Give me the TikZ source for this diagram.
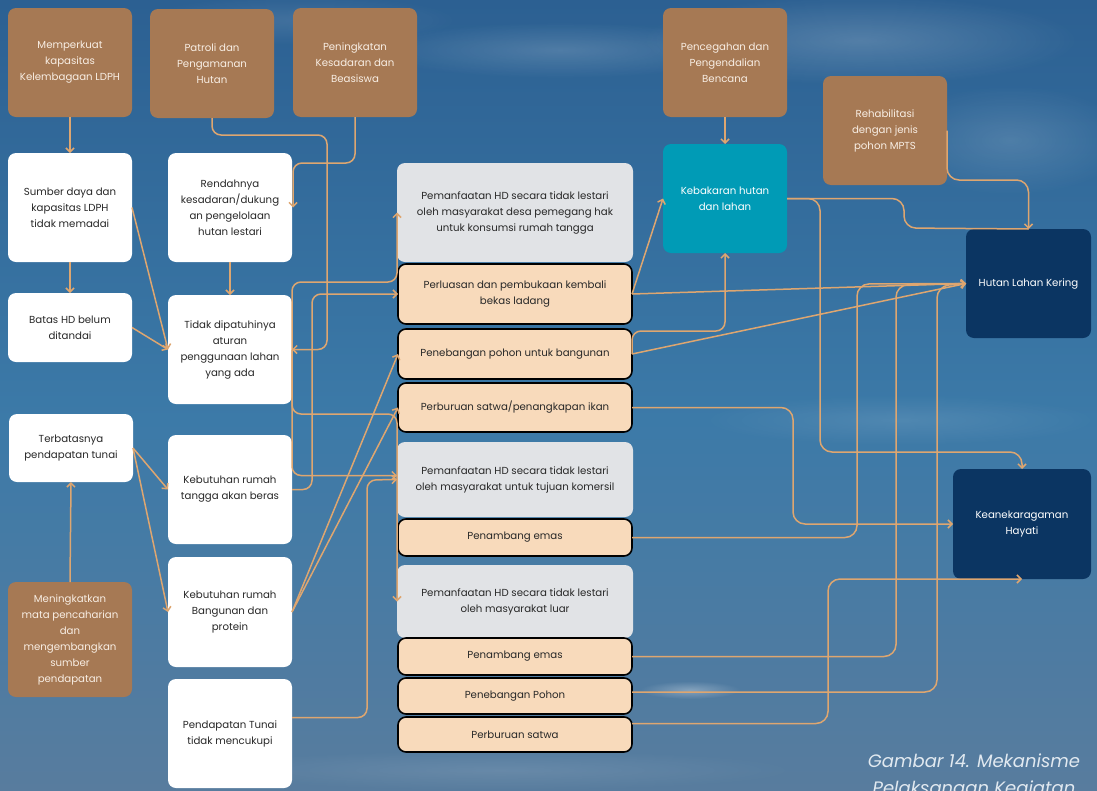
\documentclass[tikz,border=0pt]{standalone}
\usepackage{fontspec}
\setmainfont{Poppins}
\usetikzlibrary{arrows.meta,calc,fadings}
\definecolor{skytop}{RGB}{44,96,146}
\definecolor{skymid}{RGB}{60,122,168}
\definecolor{skybot}{RGB}{88,124,158}
\definecolor{brownbox}{RGB}{166,121,84}
\definecolor{browntext}{RGB}{248,238,228}
\definecolor{peach}{RGB}{248,218,187}
\definecolor{greybox}{RGB}{225,227,230}
\definecolor{tealbox}{RGB}{0,155,182}
\definecolor{navybox}{RGB}{11,53,98}
\definecolor{linkc}{RGB}{222,166,112}
\definecolor{inktext}{RGB}{40,40,40}
\definecolor{captext}{RGB}{225,233,240}
\tikzfading[name=softcloud,inner color=transparent!0,outer color=transparent!100]

\begin{document}
\begin{tikzpicture}[x=1pt,y=-1pt,
  sz/.style 2 args={minimum width=#1pt,minimum height=#2pt},
  basebox/.style={rounded corners=8pt,align=center,inner sep=2pt,outer sep=0pt,
    font=\fontsize{10.2}{16}\selectfont},
  brownbox/.style={basebox,fill=brownbox,text=browntext},
  whitebox/.style={basebox,fill=white,text=inktext},
  greycard/.style={basebox,fill=greybox,text=inktext,sz={236}{#1}},
  peachcard/.style={basebox,fill=peach,draw=black,line width=1.6pt,text=inktext,sz={234}{#1}},
  tealbox/.style={basebox,fill=tealbox,text=white},
  navybox/.style={basebox,fill=navybox,text=white},
  cloud/.style={fill=white,path fading=softcloud,opacity=#1},
  link/.style={draw=linkc,line width=1.5pt,rounded corners=9pt,
    -{Straight Barb[length=4pt,width=8pt,line width=1.5pt]}},
  plainlink/.style={draw=linkc,line width=1.5pt,rounded corners=12pt},
]
% sky background
\useasboundingbox (0,0) rectangle (1097,790);
\shade[top color=skytop,bottom color=skymid] (0,0) rectangle (1097,420);
\shade[top color=skymid,bottom color=skybot] (0,420) rectangle (1097,790);

\begin{scope}
\clip (0,0) rectangle (1097,790);

% thin clouds
\fill[cloud=0.16] (560,50) ellipse (190 and 28);
\fill[cloud=0.18] (860,40) ellipse (220 and 45);
\fill[cloud=0.14] (1010,140) ellipse (120 and 55);
\fill[cloud=0.10] (300,20) ellipse (160 and 25);
\fill[cloud=0.10] (900,420) ellipse (200 and 25);
\fill[cloud=0.30] (690,690) ellipse (50 and 9);
\fill[cloud=0.10] (500,770) ellipse (300 and 20);

% interventions (brown)
\node[brownbox,sz={124}{109}] (B1) at (70,62.5) {Memperkuat\\kapasitas\\Kelembagaan LDPH};
\node[brownbox,sz={124}{109}] (B2) at (212,63.5) {Patroli dan\\Pengamanan\\Hutan};
\node[brownbox,sz={124}{109}] (B3) at (355,62.5) {Peningkatan\\Kesadaran dan\\Beasiswa};
\node[brownbox,sz={124}{109}] (B4) at (725,62.5) {Pencegahan dan\\Pengendalian\\Bencana};
\node[brownbox,sz={124}{109}] (B5) at (885,130.5) {Rehabilitasi\\dengan jenis\\pohon MPTS};
\node[brownbox,sz={124}{115}] (B6) at (70,639.5) {Meningkatkan\\mata pencaharian\\dan\\mengembangkan\\sumber\\pendapatan};

% root causes (white)
\node[whitebox,sz={124}{109}] (W1) at (70,207.5) {Sumber daya dan\\kapasitas LDPH\\tidak memadai};
\node[whitebox,sz={124}{109}] (W2) at (230,207.5) {Rendahnya\\kesadaran/dukung\\an pengelolaan\\hutan lestari};
\node[whitebox,sz={124}{69}] (W3) at (70,327.5) {Batas HD belum\\ditandai};
\node[whitebox,sz={124}{109}] (W4) at (230,349.5) {Tidak dipatuhinya\\aturan\\penggunaan lahan\\yang ada};
\node[whitebox,sz={124}{68}] (W5) at (71,448) {Terbatasnya\\pendapatan tunai};
\node[whitebox,sz={124}{109}] (W6) at (230,489.5) {Kebutuhan rumah\\tangga akan beras};
\node[whitebox,sz={124}{110}] (W7) at (230,612) {Kebutuhan rumah\\Bangunan dan\\protein};
\node[whitebox,sz={124}{109}] (W8) at (230,733.5) {Pendapatan Tunai\\tidak mencukupi};

% direct threats (grey) and activities (peach)
\node[greycard=99] (G1) at (515,212.5) {Pemanfaatan HD secara tidak lestari\\oleh masyarakat desa pemegang hak\\untuk konsumsi rumah tangga};
\node[peachcard=60] (P1) at (515,294) {Perluasan dan pembukaan kembali\\bekas ladang};
\node[peachcard=50] (P2) at (515,354) {Penebangan pohon untuk bangunan};
\node[peachcard=49] (P3) at (515,407.5) {Perburuan satwa/penangkapan ikan};
\node[greycard=75] (G2) at (515,479.5) {Pemanfaatan HD secara tidak lestari\\oleh masyarakat untuk tujuan komersil};
\node[peachcard=37] (P4) at (515,537.5) {Penambang emas};
\node[greycard=73] (G3) at (515,601.5) {Pemanfaatan HD secara tidak lestari\\oleh masyarakat luar};
\node[peachcard=37] (P5) at (515,656.5) {Penambang emas};
\node[peachcard=36] (P6) at (515,696) {Penebangan Pohon};
\node[peachcard=35] (P7) at (515,734.5) {Perburuan satwa};

% threat and targets
\node[tealbox,sz={124}{109}] (KB) at (725,198.5) {Kebakaran hutan\\dan lahan};
\node[navybox,sz={125}{109}] (HLK) at (1028.5,283.5) {Hutan Lahan Kering};
\node[navybox,sz={138}{110}] (KH) at (1022,524) {Keanekaragaman\\Hayati};

% links on the left side
\draw[link] (B1.south) -- (W1.north);
\draw[link] (W1.south) -- (W3.north);
\draw[link] (W1.east) -- (W4.west);
\draw[link] (W3.east) -- (W4.west);
\draw[link] (W2.south) -- (W4.north);
\draw[link] (B2.south) |- (327,135) |- (W4.east);
\draw[link] (B3.south) |- (293,163) -- ($(W2.east)+(1,0)$);
\draw[link] (B6.north) -- (W5.south);
\draw[link] (W5.east) -- (W6.west);
\draw[link] (W5.east) -- (W7.west);

% links into the central column
\draw[link] (W4.east) |- (397,282) -- (G1.west);
\draw[link] (W4.east) |- ($(G2.west)+(0,-4)$);
\draw[link] (W4.east) |- (397,414) -- (G3.west);
\draw[link] (W6.east) -| (312,294) -- (P1.west);
\draw[link] (W7.east) -- (P2.west);
\draw[link] (W7.east) -- (P3.west);
\draw[link] ($(W8.east)+(0,-16)$) -| (367,480) -- (G2.west);

% links on the right side
\draw[link] (B4.south) -- (KB.north);
\draw[link] (P1.east) -- (KB.west);
\draw[link] (P1.east) -- (HLK.west);
\draw[link] (P2.east) |- (725,331) -- (KB.south);
\draw[link] (P2.east) -- (HLK.west);
\draw[plainlink] (KB.east) -| (904,228) -- (HLK.north);
\draw[link,rounded corners=12pt] (B5.east) |- (1028.5,180) -- (HLK.north);
\draw[link,rounded corners=12pt] (KB.east) -| (820,452) -| (KH.north);
\draw[link,rounded corners=12pt] (P3.east) -| (793,524) -- (KH.west);
\draw[link,rounded corners=12pt] (P4.east) -| (857,284) -- (HLK.west);
\draw[link,rounded corners=12pt] (P5.east) -| (896,285) -- (HLK.west);
\draw[link,rounded corners=12pt] ($(P6.east)+(0,-4)$) -| (937,286) -- (HLK.west);
\draw[link,rounded corners=12pt] ($(P7.east)+(0,-11)$) -| (828,579) -- (KH.south);

% caption
\node[text=captext,align=center,inner sep=0pt,anchor=base,
  font=\fontsize{18}{27}\selectfont\itshape] (cap) at (974,794)
  {Gambar 14. Mekanisme\\Pelaksanaan Kegiatan};
\end{scope}
\end{tikzpicture}
\end{document}
